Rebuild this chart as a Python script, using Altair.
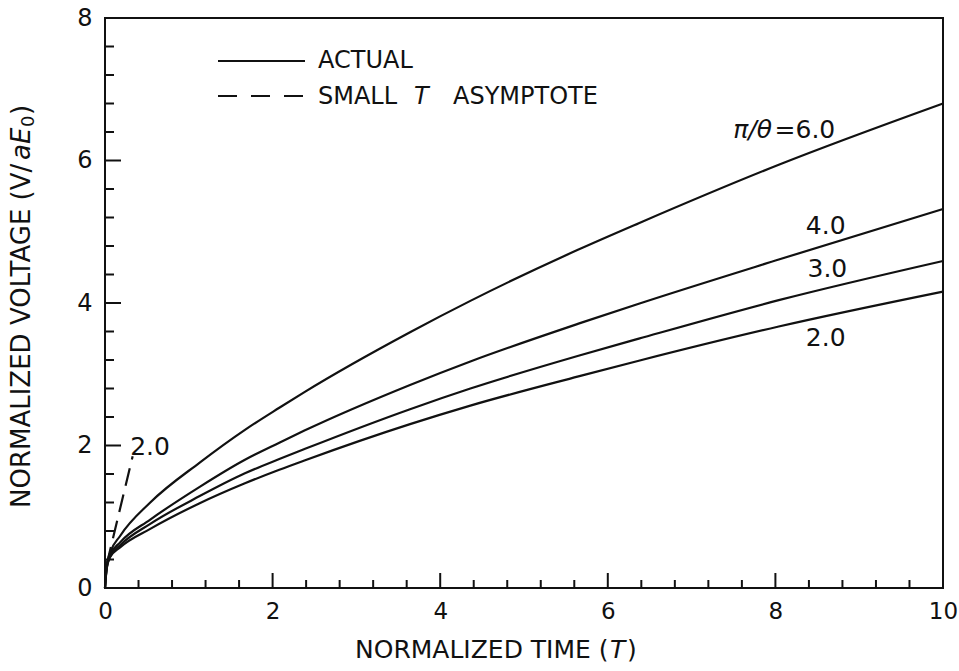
import altair as alt
import pandas as pd

FONT = "DejaVu Sans"
INK = "#111111"

# Normalized time samples shared by all four "actual" curves
T_ACTUAL = [0, 0.02, 0.06, 0.18, 0.54, 1.13, 1.67, 2.08, 2.38, 3.64, 4.36, 5.65, 6.37, 8.04, 10]
# Normalized voltage for each pi/theta value
V_60 = [0, 0.31, 0.49, 0.73, 1.20, 1.76, 2.22, 2.53, 2.75, 3.59, 4.03, 4.75, 5.12, 5.94, 6.80]
V_40 = [0, 0.29, 0.46, 0.64, 0.96, 1.42, 1.80, 2.04, 2.21, 2.85, 3.18, 3.71, 3.99, 4.61, 5.32]
V_30 = [0, 0.28, 0.44, 0.60, 0.90, 1.29, 1.61, 1.81, 1.95, 2.51, 2.80, 3.26, 3.50, 4.04, 4.59]
V_20 = [0, 0.27, 0.43, 0.57, 0.83, 1.19, 1.47, 1.66, 1.79, 2.30, 2.56, 2.97, 3.19, 3.67, 4.16]
RATIOS = ["6.0", "4.0", "3.0", "2.0"]

# Small-T asymptote for pi/theta = 2.0
T_ASYM = [0.02, 0.33]
V_ASYM = [0.33, 1.85]

# Axis ticks
X_LABELS = [0, 2, 4, 6, 8, 10]
X_MINOR = [0.4, 0.8, 1.2, 1.6, 2.4, 2.8, 3.2, 3.6, 4.4, 4.8, 5.2, 5.6,
           6.4, 6.8, 7.2, 7.6, 8.4, 8.8, 9.2, 9.6]
Y_LABELS = [0, 2, 4, 6, 8]
Y_MINOR = [0.4, 0.8, 1.2, 1.6, 2.4, 2.8, 3.2, 3.6, 4.4, 4.8, 5.2, 5.6,
           6.4, 6.8, 7.2, 7.6]

# Curve labels (text, t, v)
CURVE_LABELS = ["4.0", "3.0", "2.0"]
CURVE_LABEL_T = [8.6, 8.62, 8.6]
CURVE_LABEL_V = [5.08, 4.48, 3.51]

W, H = 838, 570

rows = []
for r, vals in zip(RATIOS, [V_60, V_40, V_30, V_20]):
    for t, v in zip(T_ACTUAL, vals):
        rows.append({"ratio": r, "t": t, "v": v})
curves_df = pd.DataFrame(rows)
asym_df = pd.DataFrame({"t": T_ASYM, "v": V_ASYM})

xs = alt.Scale(domain=[0, 10], nice=False, zero=False)
ys = alt.Scale(domain=[0, 8], nice=False, zero=False)

x_axis = alt.Axis(values=X_LABELS, format="d", labelFont=FONT, labelFontSize=23,
                  labelColor=INK, labelFlush=False, ticks=False, domain=False,
                  grid=False, labelPadding=12, title=None)
y_axis = alt.Axis(values=Y_LABELS, format="d", labelFont=FONT, labelFontSize=24,
                  labelColor=INK, labelFlush=False, ticks=False, domain=False,
                  grid=False, labelPadding=13, title=None)

curves = alt.Chart(curves_df).mark_line(
    color=INK, strokeWidth=2.2, interpolate="monotone"
).encode(
    x=alt.X("t:Q", scale=xs, axis=x_axis),
    y=alt.Y("v:Q", scale=ys, axis=y_axis),
    detail="ratio:N",
)

asym = alt.Chart(asym_df).mark_line(
    color=INK, strokeWidth=2.2, strokeDash=[18, 9]
).encode(x=alt.X("t:Q", scale=xs), y=alt.Y("v:Q", scale=ys))

# Inward tick marks
xmaj = alt.Chart(pd.DataFrame({"t": X_LABELS})).mark_rule(color=INK, strokeWidth=2).encode(
    x=alt.X("t:Q", scale=xs), y=alt.value(H), y2=alt.value(H - 15))
xmin = alt.Chart(pd.DataFrame({"t": X_MINOR})).mark_rule(color=INK, strokeWidth=2).encode(
    x=alt.X("t:Q", scale=xs), y=alt.value(H), y2=alt.value(H - 8))
ymaj = alt.Chart(pd.DataFrame({"v": Y_LABELS})).mark_rule(color=INK, strokeWidth=2).encode(
    y=alt.Y("v:Q", scale=ys), x=alt.value(0), x2=alt.value(16))
ymin = alt.Chart(pd.DataFrame({"v": Y_MINOR})).mark_rule(color=INK, strokeWidth=2).encode(
    y=alt.Y("v:Q", scale=ys), x=alt.value(0), x2=alt.value(9))

# Curve labels
lab_df = pd.DataFrame({"text": CURVE_LABELS, "t": CURVE_LABEL_T, "v": CURVE_LABEL_V})
labels = alt.Chart(lab_df).mark_text(font=FONT, fontSize=25, color=INK).encode(
    x=alt.X("t:Q", scale=xs), y=alt.Y("v:Q", scale=ys), text="text:N")

top_sym = alt.Chart(pd.DataFrame({"text": ["π/θ"], "t": [7.96], "v": [6.43]})).mark_text(
    font=FONT, fontSize=25, fontStyle="italic", color=INK, align="right"
).encode(x=alt.X("t:Q", scale=xs), y=alt.Y("v:Q", scale=ys), text="text:N")
top_val = alt.Chart(pd.DataFrame({"text": ["=6.0"], "t": [7.99], "v": [6.43]})).mark_text(
    font=FONT, fontSize=25, color=INK, align="left"
).encode(x=alt.X("t:Q", scale=xs), y=alt.Y("v:Q", scale=ys), text="text:N")

asym_lab = alt.Chart(pd.DataFrame({"text": ["2.0"], "t": [0.30], "v": [1.98]})).mark_text(
    font=FONT, fontSize=25, color=INK, align="left"
).encode(x=alt.X("t:Q", scale=xs), y=alt.Y("v:Q", scale=ys), text="text:N")

# Legend
one = pd.DataFrame({"k": [0]})
leg_solid = alt.Chart(one).mark_rule(color=INK, strokeWidth=2.2).encode(
    x=alt.value(113), x2=alt.value(200), y=alt.value(43))
leg_dash = alt.Chart(one).mark_rule(color=INK, strokeWidth=2.2, strokeDash=[19, 14]).encode(
    x=alt.value(113), x2=alt.value(198), y=alt.value(78))


def txt(s, x, y, size=24, style="normal", align="left", angle=0, baseline="middle"):
    kw = dict(font=FONT, fontSize=size, fontStyle=style, color=INK, align=align,
              baseline=baseline)
    if angle:
        kw["angle"] = angle
    return alt.Chart(pd.DataFrame({"text": [s]})).mark_text(**kw).encode(
        x=alt.value(x), y=alt.value(y), text="text:N")


leg_texts = [
    txt("ACTUAL", 213, 43),
    txt("SMALL", 213, 79),
    txt("T", 309, 79, style="italic"),
    txt("ASYMPTOTE", 348, 79),
]

# Axis titles
x_title = [
    txt("NORMALIZED TIME (", 250, 632, size=25),
    txt("T", 505, 632, size=25, style="italic"),
    txt(")", 522, 632, size=25),
]
y_title = [
    txt("NORMALIZED VOLTAGE (V/", -83, 490, size=26, angle=270),
    txt("aE", -83, 142, size=26, style="italic", angle=270),
    txt("0", -76, 109, size=18, angle=270),
    txt(")", -83, 97, size=26, angle=270),
]

chart = alt.layer(
    curves, asym, xmaj, xmin, ymaj, ymin, labels, top_sym, top_val, asym_lab,
    leg_solid, leg_dash, *leg_texts, *x_title, *y_title
).properties(
    width=W, height=H,
    autosize=alt.AutoSizeParams(type="none"),
    padding={"left": 105, "top": 18, "right": 16, "bottom": 83},
    background="white",
).configure_view(stroke=INK, strokeWidth=2)

chart.save("out.html", embed_options={"renderer": "svg", "actions": False})
